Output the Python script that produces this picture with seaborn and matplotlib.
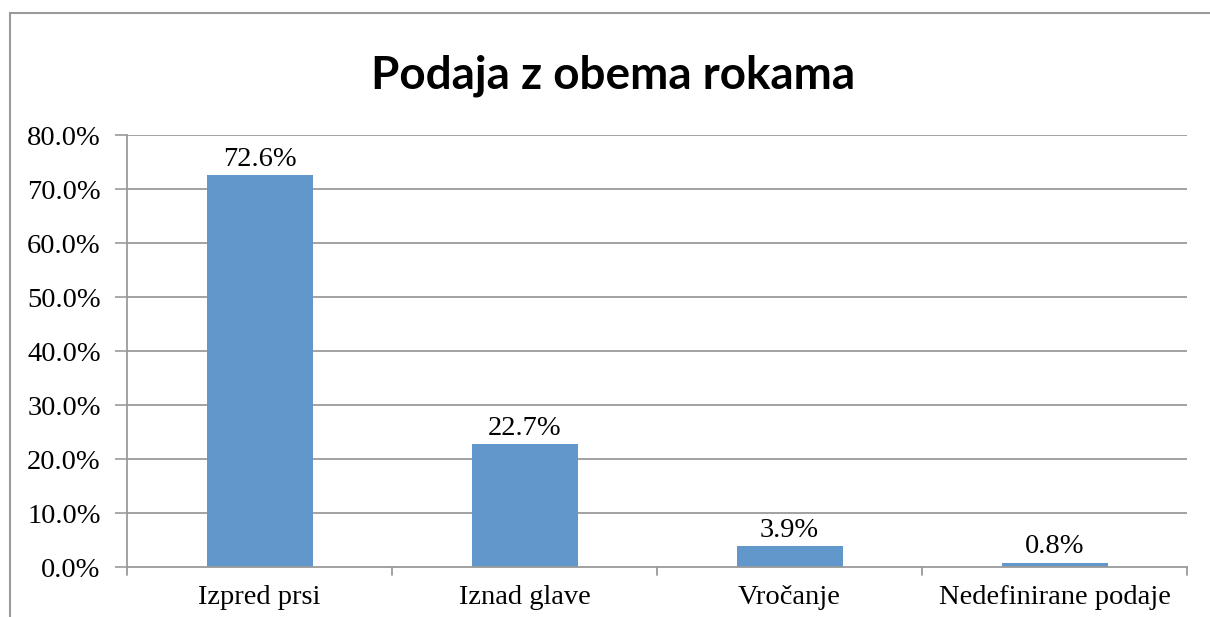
import matplotlib
matplotlib.use('Agg')
import matplotlib.pyplot as plt
import seaborn as sns
import pandas as pd
from matplotlib.patches import Rectangle

# data
categories = ['Izpred prsi', 'Iznad glave', 'Vročanje', 'Nedefinirane podaje']
values = [72.6, 22.7, 3.9, 0.8]
yticks = [0, 10, 20, 30, 40, 50, 60, 70, 80]

df = pd.DataFrame({'cat': categories, 'val': values})

sns.set_style('white')
plt.rcParams['font.family'] = ['Liberation Serif', 'DejaVu Serif']
plt.rcParams['text.color'] = 'black'
plt.rcParams['xtick.color'] = 'black'
plt.rcParams['ytick.color'] = 'black'

fig = plt.figure(figsize=(12.1, 6.17), dpi=100)
ax = fig.add_axes([0.105, 0.081, 0.876, 0.700])

sns.barplot(data=df, x='cat', y='val', color='#6197CB', width=0.4,
            saturation=1, linewidth=0, ax=ax)

ax.set_ylim(0, 80)
ax.set_xlim(-0.5, len(categories) - 0.5)
ax.set_yticks(yticks)
ax.set_yticklabels([f'{t:.1f}%' for t in yticks], fontsize=20.5)
ax.tick_params(axis='x', labelsize=20.5, length=0, pad=13, labelcolor='black')
ax.tick_params(axis='y', length=9, width=1.2, color='#9a9a9a', pad=10,
               left=True, labelcolor='black')
ax.set_xlabel('')
ax.set_ylabel('')

# gridlines
for t in yticks[1:]:
    ax.axhline(t, color='#9a9a9a', lw=1.3, zorder=0)
ax.set_axisbelow(True)

for s in ['top', 'right']:
    ax.spines[s].set_visible(False)
ax.spines['left'].set_color('#9a9a9a')
ax.spines['left'].set_linewidth(1.3)
ax.spines['bottom'].set_color('#9a9a9a')
ax.spines['bottom'].set_linewidth(1.3)

# category boundary ticks under the x axis
for b in [-0.5, 0.5, 1.5, 2.5, 3.5]:
    ax.plot([b, b], [0, -1.5], color='#9a9a9a', lw=1.3, clip_on=False)

# value labels
for i, v in enumerate(values):
    ax.text(i, v + 0.6, f'{v:.1f}%', ha='center', va='bottom', fontsize=20.5,
            color='black')

fig.text(0.507, 0.878, 'Podaja z obema rokama', ha='center', va='center',
         fontsize=33, fontweight='bold', color='black',
         family=['Lato', 'DejaVu Sans'])

# outer chart border (cropped at right and bottom)
fig.patches.append(Rectangle((10 / 1210, -0.1), 1.2, 1 - 13 / 617 + 0.1,
                             transform=fig.transFigure, fill=False,
                             edgecolor='#9a9a9a', lw=1.5))

fig.savefig('out.png', dpi=100)
